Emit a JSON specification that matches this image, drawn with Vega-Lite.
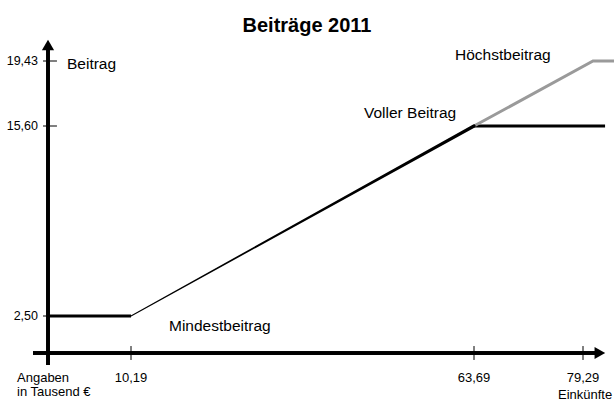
{
  "$schema": "https://vega.github.io/schema/vega-lite/v6.json",
  "width": 614,
  "height": 403,
  "autosize": "none",
  "padding": 0,
  "background": "white",
  "config": {"view": {"stroke": null}, "font": "Liberation Sans"},
  "title": {"text": "Beiträge 2011", "font": "Liberation Sans", "fontSize": 20, "fontWeight": "bold", "anchor": "middle", "baseline": "alphabetic", "offset": -32, "dy": 20, "color": "#000"},
  "datasets": {
    "linien": [
      {"Abschnitt": "Mindestbeitrag", "Einkuenfte": 0, "Beitrag": 2.5},
      {"Abschnitt": "Mindestbeitrag", "Einkuenfte": 10.19, "Beitrag": 2.5},
      {"Abschnitt": "Voller Beitrag", "Einkuenfte": 63.69, "Beitrag": 15.6},
      {"Abschnitt": "Voller Beitrag", "Einkuenfte": 82.44, "Beitrag": 15.6},
      {"Abschnitt": "Höchstbeitrag", "Einkuenfte": 63.69, "Beitrag": 15.6},
      {"Abschnitt": "Höchstbeitrag", "Einkuenfte": 80.72, "Beitrag": 19.43},
      {"Abschnitt": "Höchstbeitrag", "Einkuenfte": 84, "Beitrag": 19.43}
    ],
    "anstieg": [
      {"Einkuenfte": 10.19, "Beitrag": 2.5},
      {"Einkuenfte": 63.69, "Beitrag": 15.6}
    ],
    "xticks": [
      {"wert": 10.19, "label": "10,19"},
      {"wert": 63.69, "label": "63,69"},
      {"wert": 79.29, "label": "79,29"}
    ],
    "yticks": [
      {"wert": 2.5, "label": "2,50"},
      {"wert": 15.6, "label": "15,60"},
      {"wert": 19.43, "label": "19,43"}
    ]
  },
  "layer": [
    {
      "data": {"name": "xticks"},
      "mark": {"type": "rule", "color": "#000", "strokeWidth": 3.5},
      "encoding": {
        "x": {"datum": -1.84, "type": "quantitative", "scale": {"domain": [-6, 0, 10.19, 63.69, 79.29, 86], "range": [-0.9, 48, 131, 474, 583, 630], "nice": false, "zero": false}, "axis": null},
        "x2": {"datum": 81},
        "y": {"datum": 0, "type": "quantitative", "scale": {"domain": [-4, 0, 2.5, 15.6, 19.43, 22], "range": [412.2, 353, 316, 126, 61, 26], "nice": false, "zero": false}, "axis": null}
      }
    },
    {
      "data": {"name": "xticks"},
      "mark": {"type": "rule", "color": "#000", "strokeWidth": 3.5},
      "encoding": {
        "x": {"datum": 0, "type": "quantitative", "scale": {"domain": [-6, 0, 10.19, 63.69, 79.29, 86], "range": [-0.9, 48, 131, 474, 583, 630], "nice": false, "zero": false}, "axis": null},
        "y": {"datum": -0.81, "type": "quantitative", "scale": {"domain": [-4, 0, 2.5, 15.6, 19.43, 22], "range": [412.2, 353, 316, 126, 61, 26], "nice": false, "zero": false}, "axis": null},
        "y2": {"datum": 20.3}
      }
    },
    {
      "data": {"values": [{"richtung": "x"}]},
      "mark": {"type": "point", "shape": "triangle-right", "filled": true, "color": "#000", "size": 150, "opacity": 1},
      "encoding": {
        "x": {"datum": 81.7, "type": "quantitative", "scale": {"domain": [-6, 0, 10.19, 63.69, 79.29, 86], "range": [-0.9, 48, 131, 474, 583, 630], "nice": false, "zero": false}, "axis": null},
        "y": {"datum": 0, "type": "quantitative", "scale": {"domain": [-4, 0, 2.5, 15.6, 19.43, 22], "range": [412.2, 353, 316, 126, 61, 26], "nice": false, "zero": false}, "axis": null}
      }
    },
    {
      "data": {"values": [{"richtung": "y"}]},
      "mark": {"type": "point", "shape": "triangle-up", "filled": true, "color": "#000", "size": 150, "opacity": 1},
      "encoding": {
        "x": {"datum": 0, "type": "quantitative", "scale": {"domain": [-6, 0, 10.19, 63.69, 79.29, 86], "range": [-0.9, 48, 131, 474, 583, 630], "nice": false, "zero": false}, "axis": null},
        "y": {"datum": 20.6, "type": "quantitative", "scale": {"domain": [-4, 0, 2.5, 15.6, 19.43, 22], "range": [412.2, 353, 316, 126, 61, 26], "nice": false, "zero": false}, "axis": null}
      }
    },
    {
      "data": {"name": "xticks"},
      "mark": {"type": "rule", "color": "#000", "strokeWidth": 1},
      "encoding": {
        "x": {"field": "wert", "type": "quantitative", "scale": {"domain": [-6, 0, 10.19, 63.69, 79.29, 86], "range": [-0.9, 48, 131, 474, 583, 630], "nice": false, "zero": false}, "axis": null},
        "y": {"datum": 0.47, "type": "quantitative", "scale": {"domain": [-4, 0, 2.5, 15.6, 19.43, 22], "range": [412.2, 353, 316, 126, 61, 26], "nice": false, "zero": false}, "axis": null},
        "y2": {"datum": -0.47}
      }
    },
    {
      "data": {"name": "xticks"},
      "mark": {"type": "text", "font": "Liberation Sans", "fontSize": 13, "align": "center", "baseline": "alphabetic", "color": "#000"},
      "encoding": {
        "x": {"field": "wert", "type": "quantitative", "scale": {"domain": [-6, 0, 10.19, 63.69, 79.29, 86], "range": [-0.9, 48, 131, 474, 583, 630], "nice": false, "zero": false}, "axis": null},
        "y": {"datum": -1.96, "type": "quantitative", "scale": {"domain": [-4, 0, 2.5, 15.6, 19.43, 22], "range": [412.2, 353, 316, 126, 61, 26], "nice": false, "zero": false}, "axis": null},
        "text": {"field": "label"}
      }
    },
    {
      "data": {"name": "yticks"},
      "mark": {"type": "rule", "color": "#000", "strokeWidth": 1},
      "encoding": {
        "x": {"datum": -0.61, "type": "quantitative", "scale": {"domain": [-6, 0, 10.19, 63.69, 79.29, 86], "range": [-0.9, 48, 131, 474, 583, 630], "nice": false, "zero": false}, "axis": null},
        "x2": {"datum": 1.1},
        "y": {"field": "wert", "type": "quantitative", "scale": {"domain": [-4, 0, 2.5, 15.6, 19.43, 22], "range": [412.2, 353, 316, 126, 61, 26], "nice": false, "zero": false}, "axis": null}
      }
    },
    {
      "data": {"name": "yticks"},
      "mark": {"type": "text", "font": "Liberation Sans", "fontSize": 12.5, "align": "right", "baseline": "middle", "color": "#000"},
      "encoding": {
        "x": {"datum": -1.23, "type": "quantitative", "scale": {"domain": [-6, 0, 10.19, 63.69, 79.29, 86], "range": [-0.9, 48, 131, 474, 583, 630], "nice": false, "zero": false}, "axis": null},
        "y": {"field": "wert", "type": "quantitative", "scale": {"domain": [-4, 0, 2.5, 15.6, 19.43, 22], "range": [412.2, 353, 316, 126, 61, 26], "nice": false, "zero": false}, "axis": null},
        "text": {"field": "label"}
      }
    },
    {
      "data": {"name": "linien"},
      "mark": {"type": "line", "strokeWidth": 3, "strokeCap": "butt"},
      "encoding": {
        "x": {"field": "Einkuenfte", "type": "quantitative", "scale": {"domain": [-6, 0, 10.19, 63.69, 79.29, 86], "range": [-0.9, 48, 131, 474, 583, 630], "nice": false, "zero": false}, "axis": null},
        "y": {"field": "Beitrag", "type": "quantitative", "scale": {"domain": [-4, 0, 2.5, 15.6, 19.43, 22], "range": [412.2, 353, 316, 126, 61, 26], "nice": false, "zero": false}, "axis": null},
        "color": {"field": "Abschnitt", "type": "nominal", "scale": {"domain": ["Mindestbeitrag", "Voller Beitrag", "Höchstbeitrag"], "range": ["#000000", "#000000", "#9a9a9a"]}, "legend": null},
        "order": {"field": "Einkuenfte", "type": "quantitative"}
      }
    },
    {
      "data": {"name": "anstieg"},
      "mark": {"type": "trail", "color": "#000"},
      "encoding": {
        "x": {"field": "Einkuenfte", "type": "quantitative", "scale": {"domain": [-6, 0, 10.19, 63.69, 79.29, 86], "range": [-0.9, 48, 131, 474, 583, 630], "nice": false, "zero": false}, "axis": null},
        "y": {"field": "Beitrag", "type": "quantitative", "scale": {"domain": [-4, 0, 2.5, 15.6, 19.43, 22], "range": [412.2, 353, 316, 126, 61, 26], "nice": false, "zero": false}, "axis": null},
        "size": {"field": "Einkuenfte", "type": "quantitative", "scale": {"domain": [10.19, 63.69], "range": [1, 3.3]}, "legend": null}
      }
    },
    {
      "data": {"values": [
        {"text": "Beitrag", "ex": 2.33, "be": 18.96},
        {"text": "Höchstbeitrag", "ex": 60.73, "be": 19.5},
        {"text": "Voller Beitrag", "ex": 46.53, "be": 16.07},
        {"text": "Mindestbeitrag", "ex": 16.12, "be": 1.49}
      ]},
      "mark": {"type": "text", "font": "Liberation Sans", "fontSize": 15.5, "align": "left", "baseline": "alphabetic", "color": "#000"},
      "encoding": {
        "x": {"field": "ex", "type": "quantitative", "scale": {"domain": [-6, 0, 10.19, 63.69, 79.29, 86], "range": [-0.9, 48, 131, 474, 583, 630], "nice": false, "zero": false}, "axis": null},
        "y": {"field": "be", "type": "quantitative", "scale": {"domain": [-4, 0, 2.5, 15.6, 19.43, 22], "range": [412.2, 353, 316, 126, 61, 26], "nice": false, "zero": false}, "axis": null},
        "text": {"field": "text"}
      }
    },
    {
      "data": {"values": [{"text": "Angaben\nin Tausend €"}]},
      "mark": {"type": "text", "font": "Liberation Sans", "fontSize": 13, "align": "left", "baseline": "alphabetic", "lineBreak": "\n", "lineHeight": 14, "color": "#000"},
      "encoding": {
        "x": {"datum": -3.8, "type": "quantitative", "scale": {"domain": [-6, 0, 10.19, 63.69, 79.29, 86], "range": [-0.9, 48, 131, 474, 583, 630], "nice": false, "zero": false}, "axis": null},
        "y": {"datum": -1.96, "type": "quantitative", "scale": {"domain": [-4, 0, 2.5, 15.6, 19.43, 22], "range": [412.2, 353, 316, 126, 61, 26], "nice": false, "zero": false}, "axis": null},
        "text": {"field": "text"}
      }
    },
    {
      "data": {"values": [{"text": "Einkünfte"}]},
      "mark": {"type": "text", "font": "Liberation Sans", "fontSize": 13, "align": "left", "baseline": "alphabetic", "color": "#000"},
      "encoding": {
        "x": {"datum": 75.71, "type": "quantitative", "scale": {"domain": [-6, 0, 10.19, 63.69, 79.29, 86], "range": [-0.9, 48, 131, 474, 583, 630], "nice": false, "zero": false}, "axis": null},
        "y": {"datum": -3.13, "type": "quantitative", "scale": {"domain": [-4, 0, 2.5, 15.6, 19.43, 22], "range": [412.2, 353, 316, 126, 61, 26], "nice": false, "zero": false}, "axis": null},
        "text": {"field": "text"}
      }
    }
  ]
}
